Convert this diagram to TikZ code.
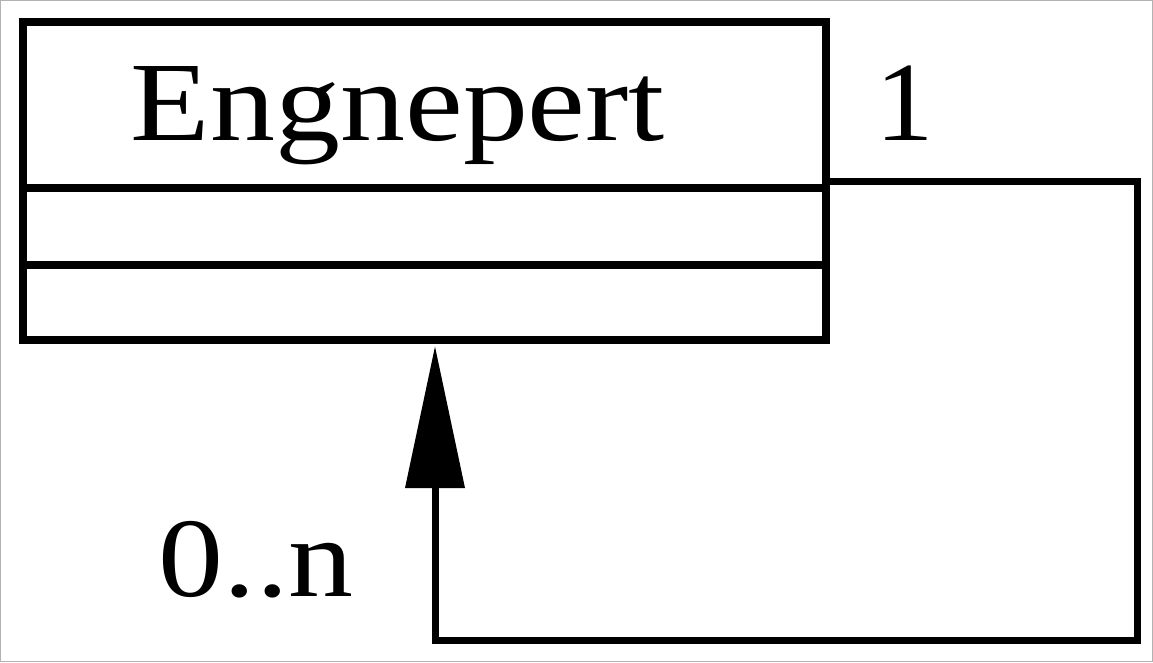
\documentclass[tikz,border=0pt]{standalone}
\usepackage{fontspec}
\setmainfont{Liberation Serif}
\usetikzlibrary{arrows.meta}
\begin{document}
\begin{tikzpicture}[x=1pt,y=-1pt,
  classbox/.style={draw, line width=8pt, minimum width=803pt, minimum height=318pt, inner sep=0pt},
  divider/.style={line width=8pt},
  assoc/.style={line width=7pt, draw=black},
  bigtext/.style={inner sep=0pt, anchor=base, font=\fontsize{113}{113}\selectfont, xscale=1.15}]
\useasboundingbox (0,0) rectangle (1153,662);
\draw[black!30, line width=1pt] (0.5,0.5) rectangle (1152.5,661.5);
\node[classbox] (cls) at (424.5,181) {};
\node[bigtext] (title) at (398,140) {Engnepert};
\draw[divider] (cls.west |- 0,188) -- (cls.east |- 0,188);
\draw[divider] (cls.west |- 0,265) -- (cls.east |- 0,265);
\coordinate (c1) at (1137,181);
\coordinate (c2) at (1137,640);
\coordinate (c3) at (435,640);
\coordinate (tip) at (435,346);
\draw[assoc, line join=miter, -{Triangle[length=142pt,width=58pt]}] (cls.east) -- (c1) -- (c2) -- (c3) -- (tip);
\node[bigtext, xscale=0.9] (one) at (905,140) {1};
\node[bigtext] (mult) at (256,596) {0..n};
\end{tikzpicture}
\end{document}
